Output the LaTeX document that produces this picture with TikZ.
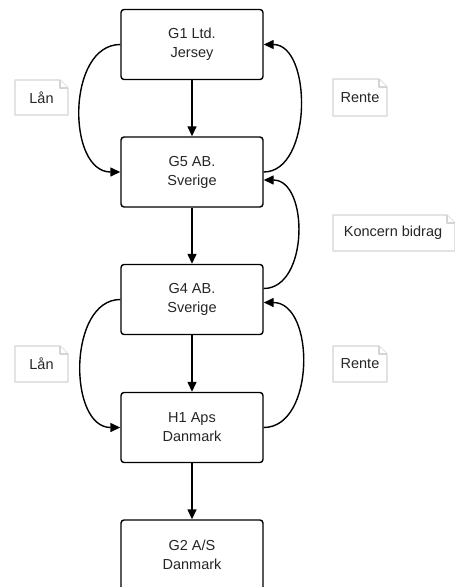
\documentclass[tikz,border=0pt]{standalone}
\usepackage{fontspec}
\setmainfont{Liberation Sans}
\usetikzlibrary{arrows.meta}
\definecolor{inkgray}{HTML}{262626}
\definecolor{notegray}{HTML}{D4D4D4}
\begin{document}
\begin{tikzpicture}[x=1pt,y=-1pt,
  entity/.style={draw=black, line width=1.4pt, rounded corners=3pt, fill=white,
    minimum width=142pt, minimum height=70pt, align=center, text=inkgray,
    font=\fontsize{14.5}{19}\selectfont, inner sep=0pt},
  notetext/.style={inner sep=0pt, text=inkgray, font=\fontsize{14.5}{17}\selectfont},
  flow/.style={line width=1.4pt, -{Triangle[length=10pt,width=9pt]}},
  fold/.style={draw=notegray, line width=1.2pt, fill=white, line join=round}
]
\useasboundingbox (0,0) rectangle (455,587);
\clip (0,0) rectangle (455,587);

% company boxes
\node[entity] (g1) at (192,44.5) {G1 Ltd.\\Jersey};
\node[entity] (g5) at (192,172) {G5 AB.\\Sverige};
\node[entity] (g4) at (192,299.5) {G4 AB.\\Sverige};
\node[entity] (h1) at (192,427.5) {H1 Aps\\Danmark};
\node[entity] (g2) at (192,555) {G2 A/S\\Danmark};

% ownership chain
\draw[flow] (g1) -- (g5);
\draw[flow] (g5) -- (g4);
\draw[flow] (g4) -- (h1);
\draw[flow] (h1) -- (g2);

% loans and interest
\draw[flow] (g1.west) to[out=180,in=180,looseness=1.08] (g5.west);
\draw[flow] (g5.east) to[out=0,in=0,looseness=0.98] (g1.east);
\draw[flow] ([yshift=11pt]g4.east) to[out=0,in=0,looseness=1.07] ([yshift=-8pt]g5.east);
\draw[flow] (g4.west) to[out=180,in=180,looseness=1.05] (h1.west);
\draw[flow] (h1.east) to[out=0,in=0,looseness=1.06] ([yshift=-3pt]g4.east);

% note labels with a folded top-right corner: left, top, right, bottom
\newcommand{\foldnote}[4]{%
  \draw[fold] (#1,#2) -- ({#3-8},#2) -- (#3,{#2+8}) -- (#3,#4) -- (#1,#4) -- cycle;
  \draw[fold] ({#3-8},#2) -- ({#3-8},{#2+8}) -- (#3,{#2+8});
}
\foldnote{15}{80}{68}{115}
\node[notetext] (lan1) at (41.5,97.5) {Lån};
\foldnote{333}{79}{387}{116}
\node[notetext] (rente1) at (360,97.5) {Rente};
\foldnote{333}{215}{455}{251}
\node[notetext] (kb) at (393,233) {Koncern bidrag};
\foldnote{15}{346}{68}{382}
\node[notetext] (lan2) at (41.5,364) {Lån};
\foldnote{333}{346}{387}{382}
\node[notetext] (rente2) at (360,364) {Rente};
\end{tikzpicture}
\end{document}
